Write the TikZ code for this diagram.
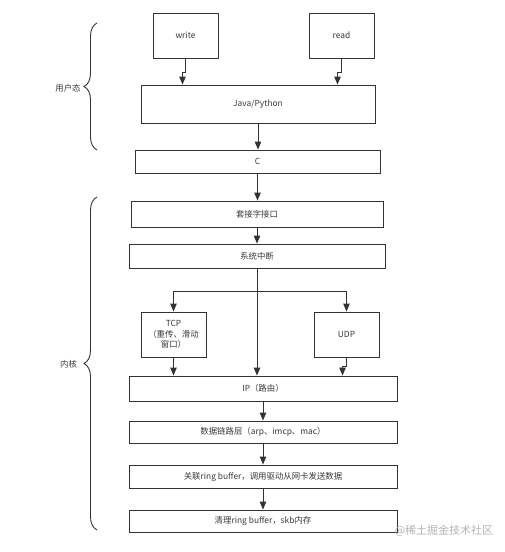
\documentclass[tikz,border=0pt]{standalone}
\usepackage{fontspec}
\setmainfont{Noto Sans CJK SC}
\usetikzlibrary{arrows.meta,decorations.pathreplacing}
\definecolor{ln}{HTML}{333333}
\definecolor{tx}{HTML}{3A3A3A}
\definecolor{wm}{HTML}{B4B4B4}
\begin{document}
\begin{tikzpicture}[x=1pt,y=-1pt,
  box/.style={draw=ln,line width=0.9pt,rectangle,inner sep=0pt,text=tx,font=\fontsize{8.4}{10.5}\selectfont,align=center},
  arr/.style={draw=ln,line width=0.9pt,-{Triangle[length=8pt,width=6.5pt]}},
  ln/.style={draw=ln,line width=0.9pt},
  brc/.style={draw=ln,line width=0.9pt,decorate,decoration={brace,amplitude=13pt}},
  lbl/.style={text=tx,font=\fontsize{8.4}{10}\selectfont,inner sep=0pt}]
\useasboundingbox[fill=white] (0,0) rectangle (505,552);
\node[box,minimum width=65pt,minimum height=45pt] (write) at (185.5,35.5) {write};
\node[box,minimum width=65pt,minimum height=45pt] (read) at (341.5,35.5) {read};
\node[box,minimum width=234pt,minimum height=38pt] (java) at (258,104) {Java/Python};
\node[box,minimum width=245pt,minimum height=23pt] (c) at (257.5,161.5) {C};
\node[box,minimum width=252pt,minimum height=26pt] (sock) at (257,214) {套接字接口};
\node[box,minimum width=256pt,minimum height=24pt] (sys) at (257,256) {系统中断};
\node[box,minimum width=65pt,minimum height=45pt] (tcp) at (173.5,334.5) {TCP\\（重传、滑动\\窗口）};
\node[box,minimum width=65pt,minimum height=45pt] (udp) at (346.5,334.5) {UDP};
\node[box,minimum width=268pt,minimum height=25pt] (ip) at (263,388.5) {IP（路由）};
\node[box,minimum width=268pt,minimum height=22pt] (dl) at (263,432) {数据链路层（arp、imcp、mac）};
\node[box,minimum width=268pt,minimum height=23pt] (ring) at (263,476.5) {关联ring buffer，调用驱动从网卡发送数据};
\node[box,minimum width=268pt,minimum height=22pt] (clean) at (263,521) {清理ring buffer，skb内存};

\draw[arr] (write.south) -- ++(0,14) -- ++(-3,0) coordinate (w1) -- (w1 |- java.north);
\draw[arr] (read.south) -- ++(0,14) -- ++(-4,0) coordinate (r1) -- (r1 |- java.north);
\draw[arr] (java.south) -- (java.south |- c.north);
\draw[arr] (c.south) -- (c.south |- sock.north);
\draw[arr] (sock.south) -- (sock.south |- sys.north);
\draw[ln] (sys.south) -- ++(0,23) coordinate (b);
\draw[arr] (b) -| (tcp.north);
\draw[arr] (b) -| (udp.north);
\draw[arr] (sys.south) -- (sys.south |- ip.north);
\draw[arr] (tcp.south) -- (tcp.south |- ip.north);
\draw[arr] (udp.south) -- ++(0,9) -- ++(-4,0) coordinate (u1) -- (u1 |- ip.north);
\draw[arr] (ip.south) -- (dl.north);
\draw[arr] (dl.south) -- (ring.north);
\draw[arr] (ring.south) -- (clean.north);

\coordinate (ub1) at (97,150);
\coordinate (ub2) at (97,23);
\draw[brc] (ub1) -- (ub2);
\coordinate (kb1) at (97,530);
\coordinate (kb2) at (97,197);
\draw[brc] (kb1) -- (kb2);
\node[lbl] (user) at (68,88) {用户态};
\node[lbl] (kern) at (68.5,364) {内核};
\node[text=wm,font=\fontsize{11}{12}\selectfont,inner sep=0pt] (wmk) at (444,531) {@稀土掘金技术社区};
\end{tikzpicture}
\end{document}
